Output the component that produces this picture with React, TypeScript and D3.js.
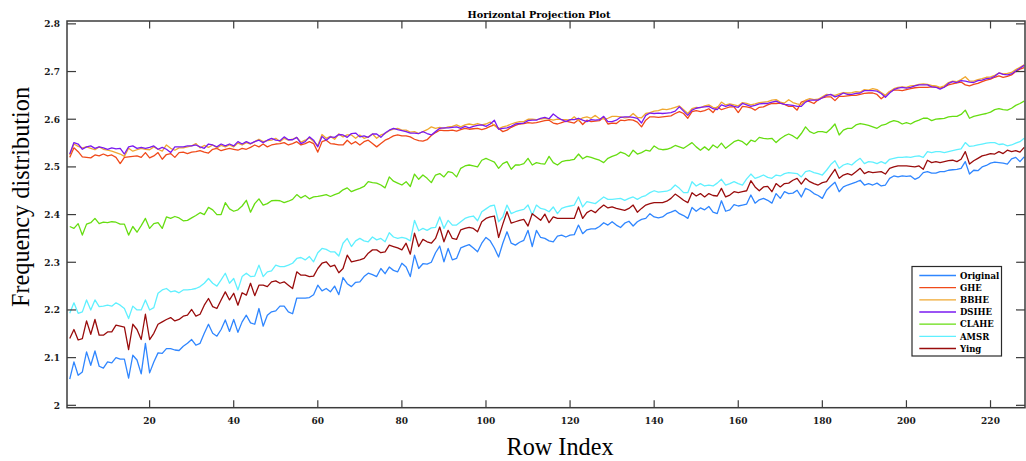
import React from 'react';
import * as d3 from 'd3';

const seriesNames = ['Original', 'GHE', 'BBHE', 'DSIHE', 'CLAHE', 'AMSR', 'Ying'];
const seriesColors = ['#2f86ff', '#f04a1a', '#f0a830', '#7a1af0', '#66dd11', '#5ff0ff', '#990c0c'];

const original = [
  2.055, 2.091, 2.063, 2.070, 2.112, 2.084, 2.114, 2.082, 2.078, 2.091,
  2.089, 2.100, 2.097, 2.097, 2.057, 2.105, 2.095, 2.066, 2.130, 2.068,
  2.091, 2.110, 2.109, 2.119, 2.119, 2.116, 2.115, 2.124, 2.130, 2.138,
  2.126, 2.130, 2.151, 2.170, 2.151, 2.145, 2.159, 2.179, 2.155, 2.180,
  2.153, 2.175, 2.189, 2.173, 2.170, 2.203, 2.166, 2.189, 2.196, 2.198,
  2.208, 2.208, 2.196, 2.192, 2.225, 2.225, 2.225, 2.226, 2.232, 2.252,
  2.240, 2.245, 2.238, 2.250, 2.232, 2.268, 2.255, 2.249, 2.258, 2.259,
  2.270, 2.277, 2.274, 2.270, 2.287, 2.276, 2.290, 2.283, 2.280, 2.298,
  2.290, 2.270, 2.315, 2.287, 2.297, 2.296, 2.300, 2.320, 2.334, 2.301,
  2.329, 2.305, 2.308, 2.330, 2.334, 2.337, 2.330, 2.322, 2.340, 2.352,
  2.345, 2.330, 2.311, 2.340, 2.364, 2.340, 2.336, 2.342, 2.346, 2.367,
  2.333, 2.367, 2.352, 2.350, 2.345, 2.343, 2.355, 2.357, 2.353, 2.357,
  2.358, 2.378, 2.360, 2.368, 2.370, 2.370, 2.375, 2.383, 2.378, 2.385,
  2.378, 2.373, 2.382, 2.386, 2.376, 2.385, 2.390, 2.392, 2.402, 2.395,
  2.393, 2.395, 2.402, 2.405, 2.409, 2.402, 2.398, 2.392, 2.415, 2.407,
  2.414, 2.410, 2.417, 2.405, 2.402, 2.429, 2.407, 2.410, 2.421, 2.418,
  2.420, 2.422, 2.441, 2.424, 2.431, 2.434, 2.430, 2.424, 2.444, 2.434,
  2.448, 2.444, 2.445, 2.451, 2.437, 2.455, 2.451, 2.444, 2.440, 2.434,
  2.451, 2.460, 2.468, 2.448, 2.458, 2.462, 2.465, 2.468, 2.472, 2.462,
  2.465, 2.462, 2.466, 2.460, 2.462, 2.476, 2.481, 2.479, 2.481, 2.480,
  2.481, 2.474, 2.478, 2.488, 2.490, 2.487, 2.487, 2.490, 2.490, 2.493,
  2.494, 2.495, 2.497, 2.511, 2.485, 2.493, 2.492, 2.500, 2.503, 2.508,
  2.510, 2.509, 2.508, 2.506, 2.517, 2.520, 2.511, 2.521,
];

const ghe = [
  2.520, 2.540, 2.532, 2.521, 2.520, 2.519, 2.525, 2.523, 2.527, 2.523,
  2.525, 2.520, 2.507, 2.520, 2.521, 2.522, 2.523, 2.520, 2.530, 2.519,
  2.523, 2.530, 2.516, 2.526, 2.528, 2.520, 2.530, 2.531, 2.528, 2.531,
  2.532, 2.534, 2.531, 2.529, 2.537, 2.539, 2.534, 2.537, 2.539, 2.537,
  2.535, 2.539, 2.537, 2.541, 2.546, 2.542, 2.548, 2.542, 2.546, 2.548,
  2.549, 2.551, 2.546, 2.549, 2.553, 2.546, 2.549, 2.553, 2.549, 2.531,
  2.553, 2.556, 2.549, 2.548, 2.546, 2.546, 2.556, 2.548, 2.553, 2.546,
  2.553, 2.556, 2.549, 2.542, 2.549, 2.556, 2.560, 2.565, 2.567, 2.565,
  2.565, 2.563, 2.558, 2.555, 2.554, 2.557, 2.566, 2.572, 2.577, 2.576,
  2.576, 2.577, 2.575, 2.578, 2.581, 2.579, 2.580, 2.581, 2.578, 2.581,
  2.585, 2.588, 2.581, 2.574, 2.577, 2.583, 2.587, 2.590, 2.591, 2.593,
  2.592, 2.593, 2.595, 2.597, 2.598, 2.592, 2.590, 2.593, 2.596, 2.594,
  2.592, 2.599, 2.589, 2.598, 2.595, 2.596, 2.597, 2.604, 2.590, 2.592,
  2.591, 2.598, 2.597, 2.599, 2.598, 2.594, 2.584, 2.598, 2.605, 2.605,
  2.604, 2.605, 2.606, 2.607, 2.612, 2.616, 2.612, 2.602, 2.616, 2.618,
  2.616, 2.618, 2.622, 2.614, 2.626, 2.620, 2.623, 2.626, 2.626, 2.614,
  2.627, 2.626, 2.624, 2.619, 2.625, 2.626, 2.630, 2.633, 2.633, 2.634,
  2.631, 2.627, 2.627, 2.619, 2.636, 2.639, 2.637, 2.633, 2.641, 2.645,
  2.647, 2.647, 2.639, 2.648, 2.648, 2.649, 2.650, 2.650, 2.652, 2.654,
  2.655, 2.655, 2.652, 2.643, 2.650, 2.658, 2.661, 2.661, 2.660, 2.662,
  2.664, 2.666, 2.667, 2.667, 2.667, 2.668, 2.668, 2.665, 2.668, 2.672,
  2.674, 2.676, 2.678, 2.672, 2.670, 2.673, 2.675, 2.679, 2.682, 2.684,
  2.688, 2.691, 2.688, 2.690, 2.693, 2.700, 2.705, 2.708,
];

const bbhe = [
  2.525, 2.548, 2.543, 2.540, 2.542, 2.539, 2.536, 2.542, 2.537, 2.535,
  2.533, 2.530, 2.527, 2.522, 2.539, 2.533, 2.536, 2.539, 2.537, 2.536,
  2.542, 2.537, 2.533, 2.546, 2.539, 2.535, 2.540, 2.540, 2.542, 2.544,
  2.549, 2.540, 2.545, 2.541, 2.546, 2.540, 2.545, 2.542, 2.546, 2.542,
  2.550, 2.546, 2.551, 2.548, 2.553, 2.558, 2.553, 2.555, 2.556, 2.560,
  2.553, 2.560, 2.556, 2.558, 2.562, 2.552, 2.556, 2.561, 2.553, 2.545,
  2.568, 2.560, 2.564, 2.558, 2.569, 2.563, 2.567, 2.567, 2.560, 2.567,
  2.560, 2.563, 2.569, 2.560, 2.567, 2.570, 2.576, 2.579, 2.581, 2.577,
  2.577, 2.573, 2.574, 2.570, 2.574, 2.578, 2.584, 2.581, 2.583, 2.581,
  2.584, 2.585, 2.588, 2.584, 2.588, 2.590, 2.588, 2.591, 2.588, 2.590,
  2.594, 2.587, 2.580, 2.584, 2.586, 2.590, 2.593, 2.595, 2.595, 2.600,
  2.600, 2.599, 2.600, 2.602, 2.600, 2.598, 2.600, 2.599, 2.599, 2.598,
  2.605, 2.597, 2.603, 2.605, 2.602, 2.608, 2.601, 2.601, 2.602, 2.606,
  2.606, 2.605, 2.603, 2.604, 2.612, 2.604, 2.603, 2.612, 2.614, 2.617,
  2.618, 2.621, 2.620, 2.622, 2.625, 2.628, 2.620, 2.612, 2.622, 2.625,
  2.624, 2.628, 2.630, 2.625, 2.624, 2.636, 2.630, 2.632, 2.630, 2.628,
  2.635, 2.633, 2.630, 2.632, 2.635, 2.636, 2.637, 2.640, 2.641, 2.636,
  2.634, 2.641, 2.635, 2.632, 2.630, 2.640, 2.643, 2.641, 2.642, 2.647,
  2.652, 2.651, 2.650, 2.653, 2.656, 2.655, 2.656, 2.658, 2.657, 2.662,
  2.661, 2.664, 2.662, 2.656, 2.650, 2.658, 2.664, 2.667, 2.668, 2.667,
  2.670, 2.671, 2.673, 2.674, 2.673, 2.671, 2.670, 2.667, 2.670, 2.677,
  2.680, 2.679, 2.683, 2.689, 2.680, 2.680, 2.683, 2.685, 2.688, 2.689,
  2.692, 2.697, 2.695, 2.696, 2.698, 2.704, 2.709, 2.714,
];

const dsihe = [
  2.527, 2.551, 2.548, 2.537, 2.542, 2.544, 2.539, 2.542, 2.540, 2.537,
  2.540, 2.538, 2.539, 2.527, 2.542, 2.544, 2.539, 2.541, 2.539, 2.541,
  2.544, 2.537, 2.541, 2.537, 2.530, 2.542, 2.542, 2.542, 2.544, 2.544,
  2.546, 2.542, 2.539, 2.548, 2.546, 2.542, 2.548, 2.544, 2.548, 2.544,
  2.553, 2.548, 2.553, 2.549, 2.553, 2.556, 2.551, 2.556, 2.560, 2.556,
  2.555, 2.563, 2.557, 2.557, 2.562, 2.549, 2.553, 2.563, 2.556, 2.542,
  2.564, 2.556, 2.563, 2.562, 2.568, 2.567, 2.562, 2.570, 2.571, 2.563,
  2.565, 2.562, 2.569, 2.569, 2.562, 2.571, 2.577, 2.581, 2.578, 2.576,
  2.574, 2.571, 2.571, 2.570, 2.574, 2.570, 2.567, 2.574, 2.581, 2.582,
  2.582, 2.583, 2.584, 2.581, 2.585, 2.582, 2.585, 2.587, 2.588, 2.585,
  2.590, 2.598, 2.579, 2.581, 2.582, 2.585, 2.590, 2.591, 2.592, 2.597,
  2.598, 2.598, 2.602, 2.604, 2.601, 2.611, 2.604, 2.599, 2.595, 2.599,
  2.599, 2.602, 2.598, 2.595, 2.599, 2.598, 2.599, 2.606, 2.595, 2.595,
  2.598, 2.604, 2.605, 2.605, 2.604, 2.602, 2.592, 2.608, 2.613, 2.612,
  2.613, 2.612, 2.613, 2.614, 2.617, 2.626, 2.617, 2.608, 2.619, 2.623,
  2.625, 2.626, 2.627, 2.622, 2.620, 2.630, 2.627, 2.630, 2.627, 2.625,
  2.633, 2.630, 2.627, 2.629, 2.632, 2.633, 2.633, 2.636, 2.638, 2.634,
  2.631, 2.630, 2.629, 2.627, 2.627, 2.636, 2.640, 2.640, 2.640, 2.645,
  2.650, 2.652, 2.647, 2.650, 2.655, 2.652, 2.652, 2.654, 2.655, 2.660,
  2.660, 2.660, 2.659, 2.654, 2.646, 2.655, 2.662, 2.665, 2.667, 2.665,
  2.667, 2.670, 2.672, 2.672, 2.672, 2.668, 2.667, 2.663, 2.667, 2.675,
  2.679, 2.677, 2.681, 2.680, 2.678, 2.677, 2.681, 2.682, 2.685, 2.686,
  2.690, 2.697, 2.694, 2.693, 2.695, 2.701, 2.707, 2.713,
];

const clahe = [
  2.375, 2.371, 2.381, 2.357, 2.380, 2.383, 2.392, 2.381, 2.384, 2.383,
  2.385, 2.384, 2.380, 2.380, 2.357, 2.375, 2.363, 2.377, 2.392, 2.371,
  2.381, 2.383, 2.371, 2.395, 2.392, 2.396, 2.393, 2.387, 2.388, 2.393,
  2.398, 2.404, 2.400, 2.415, 2.410, 2.400, 2.400, 2.425, 2.412, 2.407,
  2.410, 2.418, 2.430, 2.405, 2.423, 2.433, 2.420, 2.423, 2.429, 2.430,
  2.429, 2.425, 2.428, 2.432, 2.442, 2.435, 2.440, 2.433, 2.437, 2.438,
  2.440, 2.442, 2.438, 2.442, 2.445, 2.452, 2.456, 2.448, 2.452, 2.455,
  2.459, 2.469, 2.467, 2.466, 2.462, 2.456, 2.479, 2.470, 2.466, 2.462,
  2.469, 2.459, 2.485, 2.474, 2.483, 2.476, 2.467, 2.483, 2.486, 2.479,
  2.490, 2.488, 2.479, 2.497, 2.502, 2.504, 2.502, 2.500, 2.514, 2.518,
  2.514, 2.510, 2.497, 2.507, 2.511, 2.495, 2.504, 2.504, 2.507, 2.518,
  2.504, 2.509, 2.507, 2.506, 2.522, 2.509, 2.504, 2.511, 2.513, 2.514,
  2.516, 2.527, 2.517, 2.522, 2.520, 2.517, 2.514, 2.509, 2.518, 2.522,
  2.525, 2.531, 2.528, 2.522, 2.535, 2.527, 2.530, 2.535, 2.533, 2.544,
  2.538, 2.536, 2.537, 2.540, 2.545, 2.542, 2.539, 2.545, 2.551, 2.542,
  2.535, 2.542, 2.535, 2.546, 2.540, 2.550, 2.539, 2.546, 2.553, 2.556,
  2.553, 2.546, 2.556, 2.553, 2.562, 2.560, 2.559, 2.560, 2.551, 2.559,
  2.565, 2.569, 2.565, 2.559, 2.570, 2.584, 2.574, 2.570, 2.574, 2.574,
  2.572, 2.580, 2.590, 2.567, 2.577, 2.581, 2.581, 2.588, 2.591, 2.589,
  2.587, 2.584, 2.581, 2.587, 2.589, 2.594, 2.597, 2.595, 2.590, 2.593,
  2.590, 2.595, 2.598, 2.602, 2.602, 2.597, 2.600, 2.601, 2.602, 2.605,
  2.606, 2.606, 2.610, 2.619, 2.602, 2.606, 2.608, 2.610, 2.612, 2.615,
  2.620, 2.622, 2.620, 2.619, 2.623, 2.629, 2.633, 2.638,
];

const amsr = [
  2.193, 2.215, 2.193, 2.196, 2.221, 2.200, 2.221, 2.207, 2.208, 2.210,
  2.208, 2.215, 2.210, 2.203, 2.182, 2.208, 2.200, 2.200, 2.221, 2.200,
  2.205, 2.235, 2.242, 2.245, 2.238, 2.240, 2.236, 2.242, 2.242, 2.243,
  2.245, 2.249, 2.256, 2.266, 2.256, 2.250, 2.263, 2.277, 2.256, 2.266,
  2.242, 2.270, 2.277, 2.270, 2.271, 2.294, 2.270, 2.280, 2.282, 2.294,
  2.291, 2.291, 2.294, 2.298, 2.308, 2.310, 2.305, 2.312, 2.301, 2.320,
  2.329, 2.327, 2.322, 2.322, 2.313, 2.340, 2.350, 2.333, 2.345, 2.350,
  2.345, 2.343, 2.353, 2.347, 2.350, 2.343, 2.362, 2.353, 2.350, 2.352,
  2.350, 2.345, 2.388, 2.366, 2.371, 2.367, 2.372, 2.373, 2.395, 2.371,
  2.388, 2.378, 2.378, 2.385, 2.392, 2.395, 2.397, 2.387, 2.406, 2.412,
  2.418, 2.420, 2.385, 2.395, 2.420, 2.402, 2.406, 2.409, 2.411, 2.420,
  2.399, 2.420, 2.413, 2.411, 2.406, 2.416, 2.402, 2.413, 2.416, 2.418,
  2.420, 2.437, 2.416, 2.427, 2.425, 2.423, 2.430, 2.437, 2.432, 2.432,
  2.433, 2.434, 2.430, 2.434, 2.437, 2.432, 2.437, 2.440, 2.446, 2.450,
  2.447, 2.448, 2.449, 2.453, 2.462, 2.455, 2.446, 2.446, 2.469, 2.460,
  2.465, 2.460, 2.462, 2.460, 2.466, 2.474, 2.462, 2.465, 2.469, 2.465,
  2.462, 2.475, 2.485, 2.476, 2.479, 2.483, 2.478, 2.476, 2.483, 2.481,
  2.486, 2.488, 2.487, 2.486, 2.479, 2.490, 2.492, 2.488, 2.486, 2.483,
  2.493, 2.505, 2.513, 2.497, 2.504, 2.507, 2.504, 2.512, 2.518, 2.507,
  2.511, 2.510, 2.507, 2.511, 2.507, 2.516, 2.518, 2.520, 2.520, 2.521,
  2.520, 2.522, 2.523, 2.520, 2.532, 2.530, 2.532, 2.532, 2.530, 2.532,
  2.534, 2.536, 2.538, 2.551, 2.543, 2.544, 2.546, 2.548, 2.550, 2.551,
  2.551, 2.547, 2.548, 2.544, 2.546, 2.550, 2.553, 2.560,
];

const ying = [
  2.140, 2.159, 2.137, 2.140, 2.177, 2.149, 2.180, 2.147, 2.147, 2.154,
  2.154, 2.168, 2.166, 2.164, 2.117, 2.170, 2.159, 2.138, 2.191, 2.138,
  2.151, 2.170, 2.175, 2.180, 2.184, 2.177, 2.180, 2.187, 2.189, 2.201,
  2.187, 2.191, 2.210, 2.224, 2.207, 2.203, 2.221, 2.238, 2.221, 2.235,
  2.210, 2.236, 2.231, 2.256, 2.230, 2.252, 2.252, 2.249, 2.259, 2.261,
  2.256, 2.259, 2.252, 2.245, 2.280, 2.273, 2.273, 2.270, 2.271, 2.287,
  2.298, 2.301, 2.291, 2.294, 2.278, 2.287, 2.315, 2.301, 2.303, 2.305,
  2.308, 2.319, 2.326, 2.326, 2.320, 2.322, 2.336, 2.333, 2.330, 2.326,
  2.340, 2.317, 2.361, 2.333, 2.348, 2.343, 2.340, 2.350, 2.374, 2.343,
  2.367, 2.350, 2.348, 2.368, 2.371, 2.373, 2.371, 2.364, 2.385, 2.392,
  2.395, 2.397, 2.352, 2.380, 2.406, 2.382, 2.385, 2.388, 2.390, 2.376,
  2.402, 2.395, 2.388, 2.401, 2.383, 2.395, 2.392, 2.392, 2.392, 2.392,
  2.392, 2.416, 2.392, 2.404, 2.409, 2.404, 2.413, 2.420, 2.414, 2.416,
  2.413, 2.411, 2.409, 2.413, 2.420, 2.405, 2.413, 2.420, 2.423, 2.425,
  2.425, 2.425, 2.428, 2.434, 2.443, 2.437, 2.430, 2.425, 2.446, 2.439,
  2.444, 2.437, 2.444, 2.440, 2.439, 2.455, 2.437, 2.441, 2.448, 2.446,
  2.448, 2.450, 2.471, 2.458, 2.450, 2.458, 2.459, 2.448, 2.465, 2.458,
  2.465, 2.466, 2.472, 2.476, 2.464, 2.476, 2.469, 2.465, 2.462, 2.467,
  2.469, 2.482, 2.495, 2.476, 2.483, 2.486, 2.483, 2.490, 2.497, 2.486,
  2.490, 2.488, 2.489, 2.490, 2.485, 2.497, 2.500, 2.502, 2.502, 2.502,
  2.501, 2.500, 2.502, 2.495, 2.514, 2.509, 2.511, 2.509, 2.511, 2.513,
  2.514, 2.511, 2.516, 2.532, 2.506, 2.513, 2.518, 2.523, 2.525, 2.528,
  2.527, 2.532, 2.528, 2.535, 2.532, 2.534, 2.531, 2.541,
];

const seriesData = [original, ghe, bbhe, dsihe, clahe, amsr, ying];

const xTicks = [20, 40, 60, 80, 100, 120, 140, 160, 180, 200, 220];
const yTicks = [2, 2.1, 2.2, 2.3, 2.4, 2.5, 2.6, 2.7, 2.8];
const yTickLabels = ['2', '2.1', '2.2', '2.3', '2.4', '2.5', '2.6', '2.7', '2.8'];

const titleText = 'Horizontal Projection Plot';
const xLabelText = 'Row Index';
const yLabelText = 'Frequency distribution';

export default function App() {
  const W = 1026;
  const H = 461;
  const left = 67, right = 1025, top = 21, bottom = 407.7;
  const x = d3.scaleLinear().domain([0.35, 228.2]).range([left, right]);
  const y = d3.scaleLinear().domain([1.995, 2.806]).range([bottom, top]);
  const line = d3
    .line<number>()
    .x((_, i) => x(i + 1))
    .y((d) => y(d));

  const axisColor = '#3c3c3c';
  const tickFont = 'DejaVu Serif, serif';
  const legendX = 912, legendY = 266.5, legendW = 89.5, legendH = 89.5;
  const legendRow0 = 275.5, legendStep = 12.17;

  return (
    <svg
      width={W}
      height={H}
      viewBox={`0 0 ${W} ${H}`}
      style={{ position: 'absolute', left: 0, top: 0, background: '#fff' }}
    >
      <rect x={0} y={0} width={W} height={H} fill="#ffffff" />
      <defs>
        <clipPath id="plotClip">
          <rect x={left} y={top} width={right - left} height={bottom - top} />
        </clipPath>
      </defs>

      <g clipPath="url(#plotClip)">
        {seriesData.map((d, k) => (
          <path
            key={seriesNames[k]}
            d={line(d) || ''}
            fill="none"
            stroke={seriesColors[k]}
            strokeWidth={1.3}
            strokeLinejoin="round"
          />
        ))}
      </g>

      {/* axes box */}
      <rect
        x={left}
        y={top}
        width={right - left}
        height={bottom - top}
        fill="none"
        stroke={axisColor}
        strokeWidth={1.5}
      />

      {/* x ticks */}
      {xTicks.map((t) => (
        <g key={'xt' + t}>
          <line x1={x(t)} x2={x(t)} y1={bottom} y2={bottom - 7.5} stroke={axisColor} strokeWidth={1.2} />
          <line x1={x(t)} x2={x(t)} y1={top} y2={top + 7.5} stroke={axisColor} strokeWidth={1.2} />
          <text
            x={x(t)}
            y={424}
            textAnchor="middle"
            fontFamily={tickFont}
            fontWeight="bold"
            fontSize={9}
            fill="#1a1a1a"
          >
            {t}
          </text>
        </g>
      ))}

      {/* y ticks */}
      {yTicks.map((t, i) => (
        <g key={'yt' + t}>
          <line x1={left} x2={left + 9} y1={y(t)} y2={y(t)} stroke={axisColor} strokeWidth={1.2} />
          <line x1={right} x2={right - 9} y1={y(t)} y2={y(t)} stroke={axisColor} strokeWidth={1.2} />
          <text
            x={60}
            y={y(t) + 3.3}
            textAnchor="end"
            fontFamily={tickFont}
            fontWeight="bold"
            fontSize={9}
            fill="#1a1a1a"
          >
            {yTickLabels[i]}
          </text>
        </g>
      ))}

      {/* title */}
      <text
        x={539}
        y={17.5}
        textAnchor="middle"
        fontFamily={tickFont}
        fontWeight="bold"
        fontSize={9.5}
        textLength={143}
        lengthAdjust="spacingAndGlyphs"
        fill="#000"
      >
        {titleText}
      </text>

      {/* x label */}
      <text
        x={560}
        y={455}
        textAnchor="middle"
        fontFamily="Liberation Serif, Times New Roman, serif"
        fontSize={25}
        textLength={107}
        lengthAdjust="spacingAndGlyphs"
        fill="#000"
      >
        {xLabelText}
      </text>

      {/* y label */}
      <text
        transform={`translate(28.5,197) rotate(-90)`}
        textAnchor="middle"
        fontFamily="Liberation Serif, Times New Roman, serif"
        fontSize={25}
        textLength={220}
        lengthAdjust="spacingAndGlyphs"
        fill="#000"
      >
        {yLabelText}
      </text>

      {/* legend */}
      <rect
        x={legendX}
        y={legendY}
        width={legendW}
        height={legendH}
        fill="#ffffff"
        stroke="#2a2a2a"
        strokeWidth={1.2}
      />
      {seriesNames.map((name, k) => {
        const ly = legendRow0 + k * legendStep;
        return (
          <g key={'lg' + name}>
            <line x1={919.3} x2={956} y1={ly} y2={ly} stroke={seriesColors[k]} strokeWidth={1.3} />
            <text
              x={960}
              y={ly + 3.3}
              fontFamily={tickFont}
              fontWeight="bold"
              fontSize={8.5}
              fill="#000"
            >
              {name}
            </text>
          </g>
        );
      })}
    </svg>
  );
}
